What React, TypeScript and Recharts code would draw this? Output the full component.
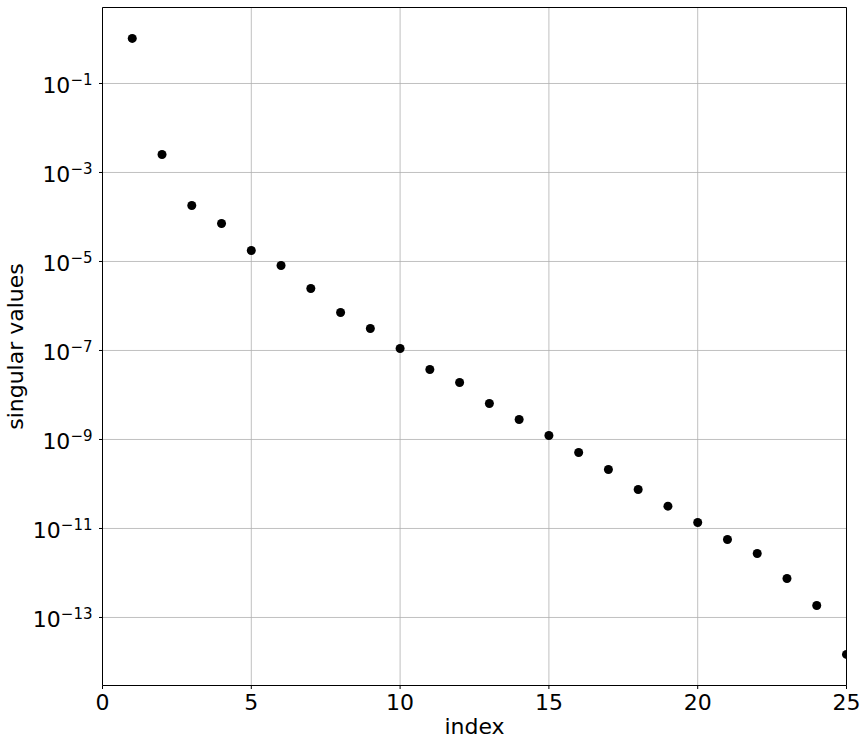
import React from "react";
import {
  ScatterChart,
  Scatter,
  XAxis,
  YAxis,
  CartesianGrid,
  ReferenceLine,
} from "recharts";

const FONT = "DejaVu Sans, sans-serif";

// index of each singular value
const indices = [
  1, 2, 3, 4, 5, 6, 7, 8, 9, 10, 11, 12, 13, 14, 15, 16, 17, 18, 19, 20, 21,
  22, 23, 24, 25,
];

// singular values (log scale)
const singularValues = [
  1.03, 2.54e-3, 1.81e-4, 7.14e-5, 1.77e-5, 8.13e-6, 2.47e-6, 7.14e-7,
  3.12e-7, 1.11e-7, 3.74e-8, 1.91e-8, 6.44e-9, 2.81e-9, 1.23e-9, 5.1e-10,
  2.12e-10, 7.5e-11, 3.17e-11, 1.36e-11, 5.66e-12, 2.74e-12, 7.5e-13,
  1.86e-13, 1.48e-14,
];

const xTicks = [0, 5, 10, 15, 20, 25];
const yTickExponents = [-1, -3, -5, -7, -9, -11, -13];
const yTicks = yTickExponents.map((e) => Number(`1e${e}`));

const X_DOMAIN = [0, 25];
const Y_DOMAIN = [2.96e-15, 5.1];

const data = indices.map((index, i) => ({
  index,
  value: singularValues[i],
}));

function XTick(props: any) {
  const { x, y, payload } = props;
  return (
    <text
      x={x}
      y={y + 17}
      textAnchor="middle"
      fontFamily={FONT}
      fontSize={22}
      fill="#000"
    >
      {payload.value}
    </text>
  );
}

function YTick(props: any) {
  const { x, y, payload } = props;
  const exp = Math.round(Math.log10(payload.value));
  return (
    <text
      x={x - 3}
      y={y + 9.7}
      textAnchor="end"
      fontFamily={FONT}
      fontSize={22}
      fill="#000"
    >
      <tspan>10</tspan>
      <tspan fontSize={15} dy={-8.3}>
        {`\u2212${Math.abs(exp)}`}
      </tspan>
    </text>
  );
}

function Dot(props: any) {
  const { cx, cy } = props;
  return <circle cx={cx} cy={cy} r={4.5} fill="#000" />;
}

export default function App() {
  return (
    <div style={{ position: "absolute", left: 0, top: 0, background: "#fff" }}>
      <ScatterChart
        width={868}
        height={745}
        margin={{ top: 7.5, right: 21.5, bottom: 9.5, left: 12.5 }}
      >
        <CartesianGrid stroke="#b0b0b0" strokeWidth={0.8} />
        <XAxis
          dataKey="index"
          type="number"
          domain={X_DOMAIN}
          ticks={xTicks}
          allowDataOverflow
          height={50}
          stroke="#000"
          tickSize={3.5}
          tickMargin={3.5}
          tick={<XTick />}
          label={() => (
            <text
              x={474.5}
              y={734}
              textAnchor="middle"
              fontFamily={FONT}
              fontSize={22}
              fill="#000"
            >
              index
            </text>
          )}
        />
        <YAxis
          dataKey="value"
          type="number"
          scale="log"
          domain={Y_DOMAIN}
          ticks={yTicks}
          allowDataOverflow
          width={90}
          stroke="#000"
          tickSize={3.5}
          tickMargin={3.5}
          tick={<YTick />}
          label={() => (
            <text
              x={22.5}
              y={346.5}
              transform="rotate(-90 22.5 346.5)"
              textAnchor="middle"
              fontFamily={FONT}
              fontSize={22}
              fill="#000"
            >
              singular values
            </text>
          )}
        />
        {/* top and right spines */}
        <ReferenceLine y={Y_DOMAIN[1]} stroke="#000" strokeWidth={1} />
        <ReferenceLine x={X_DOMAIN[1]} stroke="#000" strokeWidth={1} />
        <Scatter
          data={data}
          fill="#000"
          shape={<Dot />}
          isAnimationActive={false}
        />
      </ScatterChart>
    </div>
  );
}
